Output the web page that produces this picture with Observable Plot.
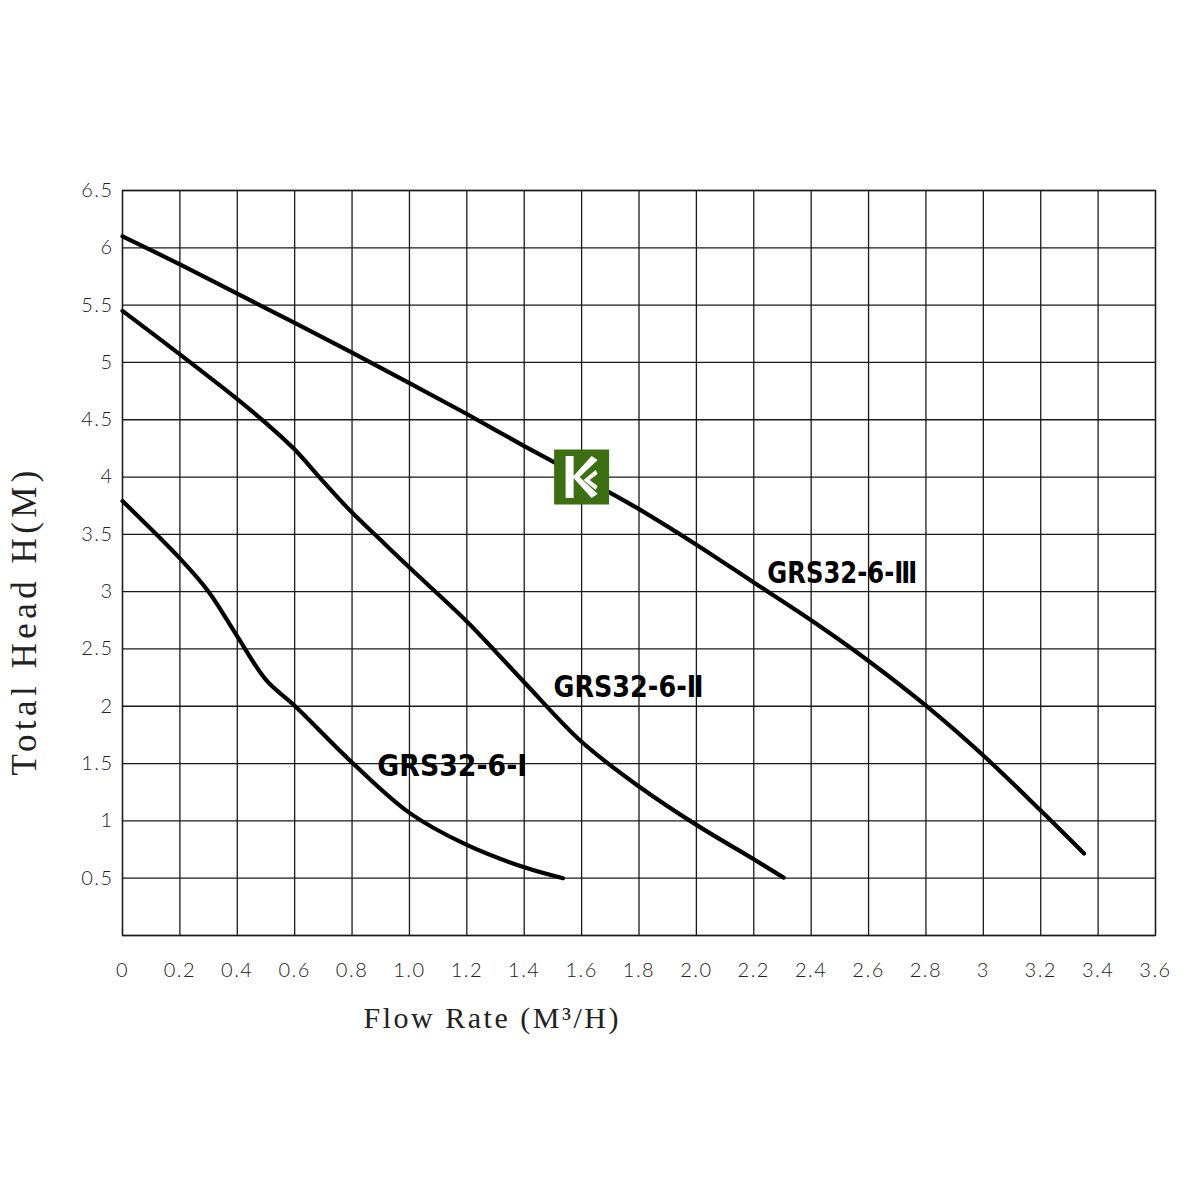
<!DOCTYPE html>
<html>
<head>
<meta charset="utf-8">
<script src="https://cdn.jsdelivr.net/npm/d3@7"></script>
<script src="https://cdn.jsdelivr.net/npm/@observablehq/plot@0.6"></script>
<style>
  body { margin: 0; background: #fff; }
  #chart svg { display: block; }
</style>
</head>
<body>
<div id="chart"></div>
<script>
// ---- axes / ticks ----
const xTicks = [0, 0.2, 0.4, 0.6, 0.8, 1.0, 1.2, 1.4, 1.6, 1.8, 2.0, 2.2, 2.4, 2.6, 2.8, 3.0, 3.2, 3.4, 3.6];
const xTickLabels = ["0", "0.2", "0.4", "0.6", "0.8", "1.0", "1.2", "1.4", "1.6", "1.8", "2.0", "2.2", "2.4", "2.6", "2.8", "3", "3.2", "3.4", "3.6"];
const yTicks = [0.5, 1, 1.5, 2, 2.5, 3, 3.5, 4, 4.5, 5, 5.5, 6, 6.5];
const yTickLabels = ["0.5", "1", "1.5", "2", "2.5", "3", "3.5", "4", "4.5", "5", "5.5", "6", "6.5"];
const yGrid = [0, 0.5, 1, 1.5, 2, 2.5, 3, 3.5, 4, 4.5, 5, 5.5, 6, 6.5];

// ---- series (flow M³/H, head M) ----
const flowI = [0, 0.2, 0.3, 0.4, 0.5, 0.6, 0.8, 1.0, 1.2, 1.4, 1.535];
const headI = [3.79, 3.29, 3.00, 2.61, 2.23, 2.005, 1.51, 1.07, 0.79, 0.595, 0.50];

const flowII = [0, 0.2, 0.4, 0.5, 0.6, 0.7, 0.8, 0.9, 1.0, 1.2, 1.4, 1.6, 1.8, 2.0, 2.2, 2.304];
const headII = [5.45, 5.07, 4.68, 4.47, 4.24, 3.96, 3.69, 3.45, 3.21, 2.74, 2.21, 1.69, 1.30, 0.965, 0.665, 0.505];

const flowIII = [0, 0.2, 0.4, 0.6, 0.8, 1.0, 1.2, 1.4, 1.6, 1.8, 2.0, 2.2, 2.4, 2.6, 2.8, 3.0, 3.2, 3.351];
const headIII = [6.10, 5.855, 5.60, 5.345, 5.085, 4.82, 4.55, 4.27, 4.0, 3.72, 3.41, 3.08, 2.75, 2.395, 2.005, 1.57, 1.09, 0.715];

const seriesNames = ["GRS32-6-Ⅰ", "GRS32-6-Ⅱ", "GRS32-6-Ⅲ"];
const labelX = [0.888, 1.502, 2.247];
const labelY = [1.48, 2.17, 3.164];

const logoX = [1.6];
const logoY = [4.0];

const xTitle = "Flow Rate (M³/H)";
const yTitle = "Total Head H(M)";

// ---- build tables ----
const toRows = (xs, ys, name) => xs.map((x, i) => ({flow: x, head: ys[i], series: name}));
const curves = [
  ...toRows(flowI, headI, seriesNames[0]),
  ...toRows(flowII, headII, seriesNames[1]),
  ...toRows(flowIII, headIII, seriesNames[2])
];
const labels = seriesNames.map((s, i) => ({name: s, x: labelX[i], y: labelY[i]}));
const logo = logoX.map((x, i) => ({x, y: logoY[i]}));

// custom symbols for the watermark logo
const squareSymbol = {
  draw(ctx, size) {
    const r = Math.sqrt(size / Math.PI);
    ctx.moveTo(-r, -r); ctx.lineTo(r, -r); ctx.lineTo(r, r); ctx.lineTo(-r, r); ctx.closePath();
  }
};
const kSymbol = {
  draw(ctx, size) {
    const r = Math.sqrt(size / Math.PI);
    const s = r / 27.5;
    const P = (pts) => { ctx.moveTo(pts[0][0]*s, pts[0][1]*s); for (let k = 1; k < pts.length; k++) ctx.lineTo(pts[k][0]*s, pts[k][1]*s); ctx.closePath(); };
    P([[-16, -21], [-8, -21], [-8, 21], [-16, 21]]);
    P([[10, -21], [16, -17], [-2, 0], [16, 17], [10, 21], [-9, 0]]);
    P([[14, -7], [16, -3], [8, 3], [16, 9], [14, 13], [2, 3]]);
  }
};

const tickFont = "Lato, Roboto, 'DejaVu Sans', sans-serif";
const labelFont = "'DejaVu Sans', sans-serif";
const titleFont = "'Liberation Serif', 'DejaVu Serif', serif";

const chart = Plot.plot({
  width: 1191,
  height: 1191,
  marginLeft: 122,
  marginRight: 36,
  marginTop: 190,
  marginBottom: 256,
  style: {background: "#fff", overflow: "visible"},
  x: {domain: [0, 3.6]},
  y: {domain: [0, 6.5]},
  marks: [
    Plot.ruleX(xTicks, {stroke: "#1a1a1a", strokeWidth: 1.3}),
    Plot.ruleY(yGrid, {stroke: "#1a1a1a", strokeWidth: 1.3}),
    Plot.frame({stroke: "#1a1a1a", strokeWidth: 1.3}),
    Plot.axisX(xTicks, {
      tickSize: 0, tickPadding: 27,
      tickFormat: (d) => xTickLabels[xTicks.indexOf(d)],
      fontSize: 20, fontFamily: tickFont, fontWeight: 300, fill: "#222",
      label: null
    }),
    Plot.axisY(yTicks, {
      tickSize: 0, tickPadding: 9,
      tickFormat: (d) => yTickLabels[yTicks.indexOf(d)],
      fontSize: 20, fontFamily: tickFont, fontWeight: 300, fill: "#222",
      label: null
    }),
    Plot.line(curves, {
      x: "flow", y: "head", z: "series",
      curve: "catmull-rom",
      stroke: "#000", strokeWidth: 4.2,
      strokeLinecap: "round", strokeLinejoin: "round"
    }),
    Plot.dot(logo, {x: "x", y: "y", r: 27.5, symbol: squareSymbol, fill: "#3c6e12", stroke: "none"}),
    Plot.dot(logo, {x: "x", y: "y", r: 27.5, symbol: kSymbol, fill: "#fff", stroke: "none"}),
    Plot.text(labels, {
      x: "x", y: "y", text: "name",
      textAnchor: "start", lineAnchor: "middle",
      fontSize: 31, fontWeight: "bold", fontFamily: labelFont, fill: "#000"
    }),
    Plot.text([xTitle], {
      frameAnchor: "bottom", textAnchor: "middle", dx: -148, dy: 83, lineAnchor: "middle",
      fontSize: 30, fontFamily: titleFont, fill: "#222"
    }),
    Plot.text([yTitle], {
      frameAnchor: "left", textAnchor: "middle", dx: -98, dy: 60, rotate: -90, lineAnchor: "middle",
      fontSize: 35, fontFamily: titleFont, fill: "#222"
    })
  ]
});

// typographic fitting (CAD-style fonts in the original are narrow / widely spaced)
const svg = d3.select(chart);
svg.selectAll("text").each(function () {
  const t = this.textContent;
  const el = d3.select(this);
  if (seriesNames.includes(t)) {
    el.style("font-stretch", "condensed").attr("textLength", 150).attr("lengthAdjust", "spacingAndGlyphs");
  } else if (t === xTitle) {
    el.attr("textLength", 255).attr("lengthAdjust", "spacing");
  } else if (t === yTitle) {
    el.attr("textLength", 305).attr("lengthAdjust", "spacing");
  } else if (xTickLabels.includes(t) || yTickLabels.includes(t)) {
    el.style("letter-spacing", "1.5px");
  }
});

document.getElementById("chart").appendChild(chart);
</script>
</body>
</html>
